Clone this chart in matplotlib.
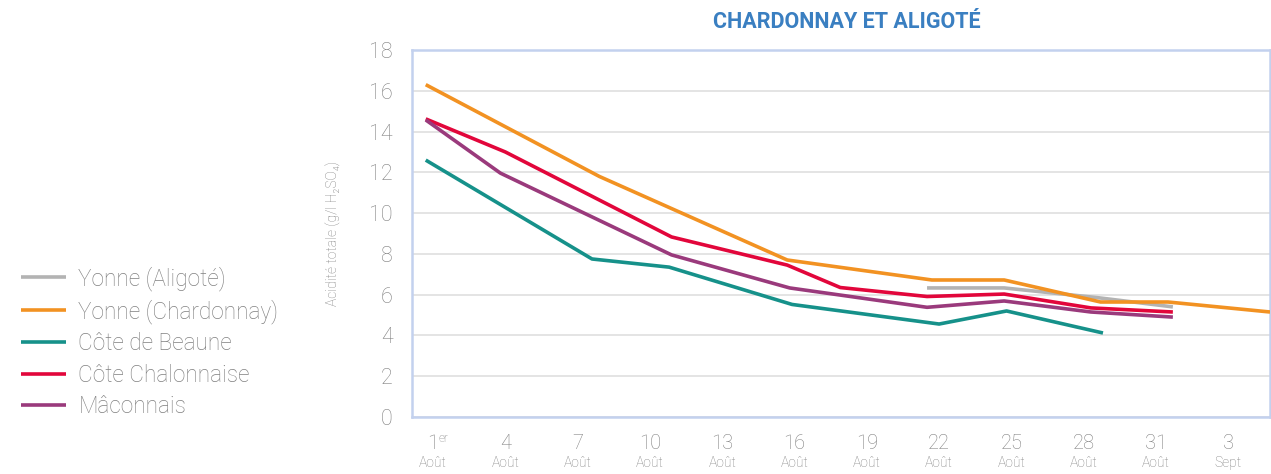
import matplotlib
matplotlib.use("Agg")
import matplotlib.pyplot as plt

plt.rcParams["font.family"] = ["Roboto", "DejaVu Sans"]

# jours depuis le 31 juillet (1 = 1er août)
x_aligote = [21.5, 24.7, 28.6, 31.7]
y_aligote = [6.33, 6.33, 5.85, 5.40]

x_chardonnay = [0.7, 7.9, 15.7, 21.7, 24.7, 28.7, 31.5, 35.73]
y_chardonnay = [16.3, 11.8, 7.7, 6.72, 6.72, 5.64, 5.64, 5.15]

x_beaune = [0.7, 7.6, 10.8, 15.9, 22.0, 24.8, 28.8]
y_beaune = [12.6, 7.75, 7.35, 5.52, 4.56, 5.20, 4.12]

x_chalon = [0.7, 4.0, 10.9, 15.7, 17.9, 21.5, 24.7, 28.3, 31.7]
y_chalon = [14.62, 13.0, 8.83, 7.45, 6.35, 5.91, 6.03, 5.35, 5.15]

x_macon = [0.7, 3.8, 10.9, 15.8, 21.5, 24.7, 28.3, 31.7]
y_macon = [14.57, 11.96, 7.95, 6.33, 5.38, 5.69, 5.15, 4.90]

series = [
    ("Yonne (Aligoté)", x_aligote, y_aligote, "#b3b3b3"),
    ("Yonne (Chardonnay)", x_chardonnay, y_chardonnay, "#f29222"),
    ("Côte de Beaune", x_beaune, y_beaune, "#16918a"),
    ("Côte Chalonnaise", x_chalon, y_chalon, "#e2063b"),
    ("Mâconnais", x_macon, y_macon, "#9a3a7c"),
]

tick_days = [1, 4, 7, 10, 13, 16, 19, 22, 25, 28, 31, 34]
tick_nums = ["1", "4", "7", "10", "13", "16", "19", "22", "25", "28", "31", "3"]
tick_months = ["Août"] * 11 + ["Sept"]

grey = "#808080"
spine_col = "#c3d1ee"

fig = plt.figure(figsize=(12.71, 4.74), dpi=100)
ax = fig.add_axes([412 / 1271, 57 / 474, 858 / 1271, 367 / 474])

for name, xs, ys, col in series:
    ax.plot(xs, ys, color=col, linewidth=2.6, label=name, solid_capstyle="butt", zorder=3)

ax.set_xlim(0.13, 35.73)
ax.set_ylim(0, 18)
ax.set_yticks(range(0, 19, 2))
ax.set_yticklabels([str(v) for v in range(0, 19, 2)], fontsize=15.5, color=grey, fontweight="light")
ax.tick_params(axis="y", length=0, pad=14)
ax.set_xticks(tick_days)
ax.set_xticklabels([])
ax.tick_params(axis="x", length=0)
ax.grid(axis="y", color="#dcdcdc", linewidth=1.1)
ax.set_axisbelow(True)
for s in ax.spines.values():
    s.set_color(spine_col)
    s.set_linewidth(1.8)

trans = ax.get_xaxis_transform()
for d, n, m in zip(tick_days, tick_nums, tick_months):
    ax.text(d, -0.045, n, transform=trans, ha="center", va="top",
            fontsize=14.5, color=grey, fontweight="light")
    ax.text(d, -0.105, m, transform=trans, ha="center", va="top",
            fontsize=10, color=grey, fontweight="light")
ax.text(1.25, -0.04, "er", transform=trans, ha="left", va="top",
        fontsize=8.5, color=grey, fontweight="light")

ax.set_ylabel("Acidité totale (g/l H₂SO₄)", fontsize=10, color=grey,
              fontweight="light", labelpad=20)

fig.text(847 / 1271, 1 - 22 / 474, "CHARDONNAY ET ALIGOTÉ", ha="center", va="center",
         fontsize=15.5, color="#3a7fc1", fontweight="bold")

handles, labels = ax.get_legend_handles_labels()
fig.legend(handles, labels, loc="center left", bbox_to_anchor=(12 / 1271, 1 - 342 / 474),
           borderaxespad=0, frameon=False, labelcolor=grey, handlelength=2.0,
           handletextpad=0.53, labelspacing=0.37, prop={"weight": "light", "size": 16.3})

fig.savefig("out.png", dpi=100)
